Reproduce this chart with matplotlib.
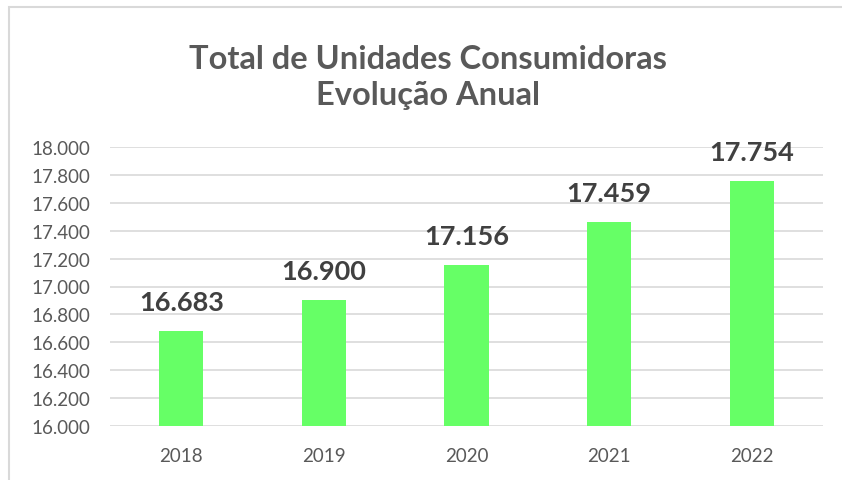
import matplotlib.pyplot as plt
from matplotlib.patches import Rectangle
import numpy as np

plt.rcParams['font.family'] = ['Lato', 'DejaVu Sans']

anos = ["2018", "2019", "2020", "2021", "2022"]
unidades = [16683, 16900, 17156, 17459, 17754]
rotulos = ["16.683", "16.900", "17.156", "17.459", "17.754"]
yticks = [16000, 16200, 16400, 16600, 16800, 17000, 17200, 17400, 17600, 17800, 18000]


def fmt(v):
    return f"{v:,.0f}".replace(",", ".")


fig = plt.figure(figsize=(8.42, 4.81), dpi=100)
ax = fig.add_axes([110 / 842, 1 - 427 / 481, 713 / 842, 279 / 481])

x = np.arange(len(anos))
ax.bar(x, unidades, 0.31, color="#66FF66", zorder=3, bottom=0)

for xi, v, r in zip(x, unidades, rotulos):
    ax.annotate(r, (xi, v), xytext=(0, 17), textcoords="offset pixels",
                ha="center", va="bottom", fontsize=19.5, fontweight="bold",
                color="#404040")

ax.set_xlim(-0.5, len(anos) - 0.5)
ax.set_ylim(16000, 18000)
ax.set_yticks(yticks)
ax.set_yticklabels([fmt(t) for t in yticks])
ax.set_xticks(x)
ax.set_xticklabels(anos)
ax.tick_params(axis="both", length=0, labelsize=13.5, labelcolor="#595959")
ax.tick_params(axis="y", pad=14)
ax.tick_params(axis="x", pad=15)
ax.grid(axis="y", color="#d9d9d9", linewidth=1.2, zorder=0)
for s in ax.spines.values():
    s.set_visible(False)

fig.text(428 / 842, 1 - 105 / 481, "Total de Unidades Consumidoras\nEvolução Anual",
         ha="center", va="baseline", fontsize=23.5, fontweight="bold",
         color="#595959", linespacing=1.3)

fig.patches.append(Rectangle((9 / 842, -0.1), 1.2, 1 - 8 / 481 + 0.1,
                             transform=fig.transFigure, fill=False,
                             edgecolor="#d9d9d9", linewidth=1.5))

fig.savefig("out.png", dpi=100)
